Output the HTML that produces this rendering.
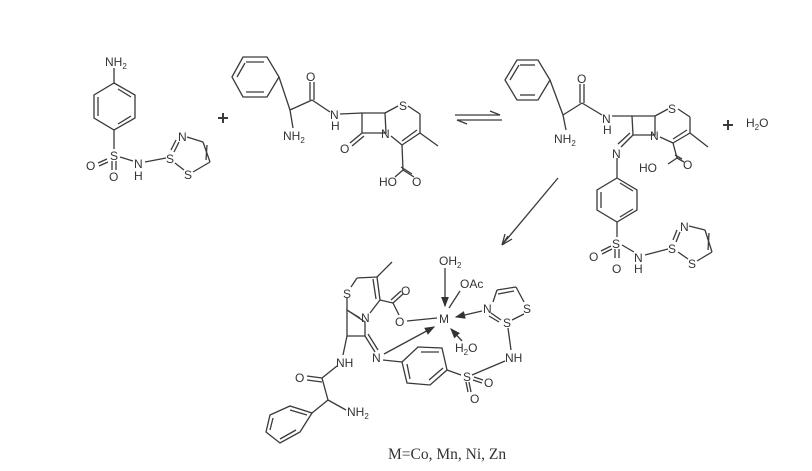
<!DOCTYPE html>
<html><head><meta charset="utf-8"><style>
html,body{margin:0;padding:0;background:#fff;width:812px;height:471px;overflow:hidden}
svg{display:block}
text{font-family:"Liberation Sans",sans-serif;font-size:12px;fill:#333}
</style></head><body>
<svg width="812" height="471" viewBox="0 0 812 471" xmlns="http://www.w3.org/2000/svg">
<defs><marker id="ah" markerWidth="8" markerHeight="8" refX="7" refY="4" orient="auto"><path d="M0,1 L8,4 L0,7 z" fill="#333"/></marker></defs>
<g stroke="#3a3a3a" stroke-width="1.3" fill="none">
<line x1="114" y1="68" x2="114" y2="83"/>
<polygon points="114,83 135,95 135,118 114,130 94,118 94,95"/>
<line x1="118" y1="89" x2="131" y2="97"/><line x1="131" y1="116" x2="118" y2="124"/><line x1="98" y1="97" x2="98" y2="116"/>
<line x1="114" y1="130" x2="114" y2="149"/>
<line x1="107" y1="159" x2="98" y2="163"/><line x1="108" y1="162" x2="99" y2="166"/>
<line x1="112" y1="161" x2="112" y2="170"/><line x1="116" y1="161" x2="116" y2="170"/>
<line x1="120" y1="157" x2="133" y2="161"/>
<line x1="145" y1="162" x2="166" y2="158"/>
<line x1="174" y1="152" x2="179" y2="142"/><line x1="171" y1="150" x2="176" y2="140"/>
<line x1="187" y1="137" x2="203" y2="142"/><line x1="203" y1="142" x2="210" y2="162"/><line x1="207" y1="145" x2="206" y2="160"/>
<line x1="210" y1="162" x2="193" y2="172"/><line x1="184" y1="170" x2="175" y2="163"/>
<line x1="218" y1="118" x2="228" y2="118" stroke-width="2"/><line x1="223" y1="113" x2="223" y2="123" stroke-width="2"/>
<polygon points="232,77 243,57 267,57 279,77 267,97 243,97"/>
<line x1="246" y1="62" x2="264" y2="62"/><line x1="264" y1="92" x2="246" y2="92"/><line x1="237" y1="77" x2="245" y2="63"/>
<line x1="279" y1="77" x2="290" y2="110"/><line x1="290" y1="110" x2="312" y2="100"/><line x1="290" y1="110" x2="293" y2="128"/>
<line x1="310" y1="100" x2="310" y2="82"/><line x1="314" y1="100" x2="314" y2="82"/>
<line x1="312" y1="100" x2="330" y2="112"/><line x1="340" y1="114" x2="362" y2="113"/>
<polygon points="362,113 385,113 386,133 362,133"/>
<line x1="362" y1="133" x2="350" y2="143"/><line x1="364" y1="136" x2="352" y2="146"/>
<line x1="385" y1="113" x2="398" y2="106"/><line x1="408" y1="106" x2="420" y2="114"/><line x1="420" y1="114" x2="420" y2="133"/>
<line x1="420" y1="133" x2="438" y2="146"/><line x1="420" y1="133" x2="402" y2="145"/><line x1="417" y1="130" x2="402" y2="141"/>
<line x1="391" y1="136" x2="402" y2="145"/><line x1="402" y1="145" x2="403" y2="170"/>
<line x1="403" y1="170" x2="395" y2="177"/><line x1="403" y1="170" x2="414" y2="177"/><line x1="401" y1="167" x2="412" y2="174"/>
<line x1="455" y1="115" x2="500" y2="115"/><line x1="490" y1="111" x2="500" y2="115"/>
<line x1="457" y1="120" x2="502" y2="120"/><line x1="457" y1="120" x2="467" y2="124"/>
<polygon points="505,80 517,60 538,60 550,80 538,100 517,100"/>
<line x1="520" y1="65" x2="535" y2="65"/><line x1="535" y1="95" x2="520" y2="95"/><line x1="510" y1="80" x2="519" y2="65"/>
<line x1="550" y1="80" x2="563" y2="115"/><line x1="563" y1="115" x2="582" y2="103"/><line x1="563" y1="115" x2="566" y2="130"/>
<line x1="580" y1="103" x2="580" y2="84"/><line x1="584" y1="103" x2="584" y2="84"/>
<line x1="582" y1="103" x2="602" y2="115"/><line x1="612" y1="116" x2="632" y2="116"/>
<polygon points="632,116 655,116 655,135 633,135"/>
<line x1="633" y1="135" x2="621" y2="147"/><line x1="630" y1="133" x2="618" y2="144"/>
<line x1="655" y1="116" x2="668" y2="109"/><line x1="678" y1="109" x2="690" y2="117"/><line x1="690" y1="117" x2="690" y2="133"/>
<line x1="690" y1="133" x2="708" y2="147"/><line x1="690" y1="133" x2="673" y2="143"/><line x1="687" y1="130" x2="673" y2="139"/>
<line x1="660" y1="137" x2="673" y2="143"/><line x1="673" y1="143" x2="677" y2="158"/>
<line x1="677" y1="158" x2="668" y2="164"/><line x1="677" y1="158" x2="684" y2="162"/><line x1="675" y1="155" x2="682" y2="159"/>
<line x1="617" y1="158" x2="617" y2="178"/>
<polygon points="617,178 637,190 637,210 617,222 597,210 597,190"/>
<line x1="620" y1="183" x2="633" y2="191"/><line x1="633" y1="209" x2="620" y2="217"/><line x1="601" y1="192" x2="601" y2="208"/>
<line x1="617" y1="222" x2="617" y2="237"/>
<line x1="611" y1="246" x2="601" y2="251"/><line x1="612" y1="249" x2="602" y2="254"/>
<line x1="615" y1="249" x2="615" y2="258"/><line x1="619" y1="249" x2="619" y2="258"/>
<line x1="622" y1="245" x2="634" y2="252"/><line x1="645" y1="255" x2="668" y2="249"/>
<line x1="676" y1="242" x2="680" y2="232"/><line x1="673" y1="240" x2="677" y2="230"/>
<line x1="689" y1="226" x2="705" y2="230"/><line x1="705" y1="230" x2="712" y2="252"/><line x1="709" y1="233" x2="708" y2="250"/>
<line x1="712" y1="252" x2="697" y2="261"/><line x1="688" y1="259" x2="678" y2="252"/>
<line x1="723" y1="125" x2="733" y2="125" stroke-width="2"/><line x1="728" y1="120" x2="728" y2="130" stroke-width="2"/>
<line x1="558" y1="178" x2="502" y2="245"/><line x1="502" y1="245" x2="505" y2="234"/><line x1="502" y1="245" x2="512" y2="239"/><line x1="502" y1="245" x2="508" y2="236"/>
<line x1="445" y1="268" x2="445" y2="306" marker-end="url(#ah)"/>
<line x1="460" y1="291" x2="449" y2="308"/>
<line x1="482" y1="311" x2="456" y2="317" marker-end="url(#ah)"/>
<line x1="462" y1="341" x2="451" y2="329" marker-end="url(#ah)"/>
<line x1="407" y1="321" x2="437" y2="318"/>
<line x1="384" y1="354" x2="434" y2="327" marker-end="url(#ah)"/>
<line x1="493" y1="302" x2="497" y2="290"/><line x1="497" y1="290" x2="516" y2="287"/><line x1="498" y1="294" x2="514" y2="291"/><line x1="516" y1="287" x2="524" y2="302"/>
<line x1="524" y1="314" x2="512" y2="320"/><line x1="491" y1="313" x2="501" y2="320"/><line x1="489" y1="316" x2="499" y2="322"/>
<line x1="508" y1="328" x2="511" y2="350"/>
<line x1="505" y1="361" x2="472" y2="375"/>
<line x1="474" y1="377" x2="483" y2="380"/><line x1="473" y1="380" x2="482" y2="383"/>
<line x1="469" y1="382" x2="471" y2="392"/><line x1="466" y1="382" x2="468" y2="392"/>
<line x1="447" y1="370" x2="461" y2="375"/>
<polygon points="402,362 418,347 442,348 447,370 430,385 407,383"/>
<line x1="421" y1="352" x2="439" y2="352"/><line x1="443" y1="368" x2="429" y2="380"/><line x1="407" y1="364" x2="410" y2="379"/>
<line x1="383" y1="360" x2="402" y2="362"/>
<line x1="351" y1="287" x2="357" y2="278"/><line x1="357" y1="278" x2="377" y2="277"/><line x1="377" y1="277" x2="392" y2="262"/>
<line x1="377" y1="277" x2="380" y2="300"/><line x1="373" y1="279" x2="376" y2="299"/>
<line x1="380" y1="300" x2="370" y2="313"/><line x1="380" y1="300" x2="393" y2="303"/>
<line x1="393" y1="303" x2="399" y2="315"/><line x1="393" y1="303" x2="403" y2="294"/><line x1="391" y1="300" x2="401" y2="291"/>
<line x1="347" y1="298" x2="347" y2="310"/><line x1="347" y1="310" x2="360" y2="318"/>
<polygon points="347,310 365,322 365,336 347,336" />
<line x1="365" y1="336" x2="375" y2="352"/><line x1="368" y1="334" x2="378" y2="350"/>
<line x1="347" y1="336" x2="343" y2="355"/>
<line x1="337" y1="366" x2="322" y2="378"/><line x1="322" y1="378" x2="307" y2="376"/><line x1="322" y1="382" x2="307" y2="380"/>
<line x1="322" y1="378" x2="328" y2="400"/><line x1="328" y1="400" x2="346" y2="410"/><line x1="328" y1="400" x2="312" y2="413"/>
<polygon points="312,413 300,432 280,443 266,432 270,415 290,406"/>
<line x1="296" y1="430" x2="280" y2="439"/><line x1="270" y1="430" x2="273" y2="418"/><line x1="290" y1="410" x2="307" y2="415"/>
</g>
<text x="105" y="66">NH<tspan font-size="8" dy="3">2</tspan></text>
<text x="110" y="160">S</text><text x="86" y="170">O</text><text x="109" y="181">O</text>
<text x="134" y="168">N</text><text x="134" y="180">H</text>
<text x="166" y="163">S</text><text x="178" y="141">N</text><text x="184" y="179">S</text>
<text x="306" y="81">O</text><text x="283" y="140">NH<tspan font-size="8" dy="3">2</tspan></text>
<text x="330" y="119">N</text><text x="331" y="130">H</text>
<text x="381" y="138">N</text><text x="340" y="153">O</text><text x="399" y="110">S</text>
<text x="379" y="186">HO</text><text x="412" y="186">O</text>
<text x="577" y="83">O</text><text x="554" y="143">NH<tspan font-size="8" dy="3">2</tspan></text>
<text x="602" y="123">N</text><text x="603" y="134">H</text>
<text x="650" y="140">N</text><text x="668" y="113">S</text><text x="612" y="158">N</text>
<text x="639" y="172">HO</text><text x="683" y="169">O</text>
<text x="746" y="127">H<tspan font-size="8" dy="3">2</tspan><tspan dy="-3">O</tspan></text>
<text x="612" y="248">S</text><text x="589" y="261">O</text><text x="612" y="273">O</text>
<text x="634" y="262">N</text><text x="634" y="273">H</text>
<text x="668" y="253">S</text><text x="680" y="231">N</text><text x="688" y="268">S</text>
<text x="439" y="265">OH<tspan font-size="8" dy="3">2</tspan></text>
<text x="460" y="288">OAc</text>
<text x="439" y="323">M</text>
<text x="483" y="313">N</text><text x="503" y="327">S</text><text x="523" y="313">S</text>
<text x="505" y="362">NH</text>
<text x="455" y="352">H<tspan font-size="8" dy="3">2</tspan><tspan dy="-3">O</tspan></text>
<text x="463" y="381">S</text><text x="484" y="387">O</text><text x="470" y="403">O</text>
<text x="395" y="326">O</text><text x="372" y="362">N</text><text x="361" y="322">N</text>
<text x="343" y="298">S</text><text x="401" y="295">O</text>
<text x="336" y="367">NH</text><text x="295" y="382">O</text>
<text x="347" y="416">NH<tspan font-size="8" dy="3">2</tspan></text>
<text x="388" y="459" style="font-family:'Liberation Serif',serif;font-size:15.5px">M=Co, Mn, Ni, Zn</text>
</svg>
</body></html>
